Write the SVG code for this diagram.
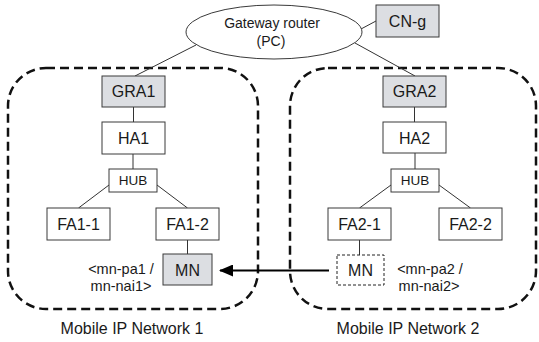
<svg xmlns="http://www.w3.org/2000/svg" width="539" height="342" viewBox="0 0 539 342">
  <defs>
    <style>
      text { font-family: "Liberation Sans", Arial, sans-serif; fill: #1a1a1a; }
      .lbl { font-size: 16px; text-anchor: middle; }
      .addr { font-size: 14.5px; text-anchor: middle; }
      .hub { font-size: 13.5px; text-anchor: middle; }
      .gw { font-size: 14px; text-anchor: middle; }
      .box { fill: #ffffff; stroke: #3a3a3a; stroke-width: 1; }
      .gray { fill: #dcdee2; }
      .ghost { fill: #ffffff; stroke: #222222; stroke-width: 1; stroke-dasharray: 3 2; }
      .net { fill: none; stroke: #111111; stroke-width: 2.5; stroke-dasharray: 9 5; }
      .link { stroke: #333333; stroke-width: 1; fill: none; }
      .move { stroke: #000000; stroke-width: 2; fill: none; }
    </style>
    <marker id="arrowhead" viewBox="0 0 14 12" refX="13" refY="6" markerWidth="14" markerHeight="12" markerUnits="userSpaceOnUse" orient="auto">
      <path d="M0,0 L14,6 L0,12 Z" fill="#000000"/>
    </marker>
  </defs>

  <!-- network boundaries -->
  <g id="networks">
    <rect class="net" x="8" y="68" width="250" height="241" rx="38" ry="38"/>
    <rect class="net" x="290" y="68" width="246" height="241" rx="38" ry="38"/>
    <text class="lbl" x="132" y="334">Mobile IP Network 1</text>
    <text class="lbl" x="408" y="334">Mobile IP Network 2</text>
  </g>

  <!-- connectors -->
  <g id="connectors">
    <line class="link" x1="196" y1="45" x2="135" y2="76"/>
    <line class="link" x1="355" y1="43" x2="415" y2="76"/>
    <line class="link" x1="361" y1="29" x2="376" y2="21"/>
    <line class="link" x1="133.5" y1="107" x2="133.5" y2="122"/>
    <line class="link" x1="133" y1="154" x2="133" y2="169"/>
    <line class="link" x1="109" y1="185" x2="78.5" y2="208"/>
    <line class="link" x1="157" y1="185" x2="187.5" y2="208"/>
    <line class="link" x1="187.5" y1="240" x2="187.5" y2="254"/>
    <line class="link" x1="414.5" y1="107" x2="414.5" y2="122"/>
    <line class="link" x1="415" y1="153" x2="415" y2="169"/>
    <line class="link" x1="391" y1="185" x2="359.5" y2="208"/>
    <line class="link" x1="439" y1="185" x2="470.5" y2="208"/>
    <line class="link" x1="359.5" y1="240" x2="359.5" y2="255"/>
    <line class="move" x1="329" y1="270.5" x2="220" y2="270.5" marker-end="url(#arrowhead)"/>
  </g>

  <g id="gateway">
    <ellipse class="box" cx="274" cy="32" rx="88" ry="27"/>
    <text class="gw" x="272" y="28">Gateway router</text>
    <text class="gw" x="271" y="46">(PC)</text>
  </g>
  <g id="cn-g">
    <rect class="box gray" x="376" y="5" width="63" height="32"/>
    <text class="lbl" x="407.5" y="27">CN-g</text>
  </g>

  <g id="gra1">
    <rect class="box gray" x="102" y="76" width="63" height="31"/>
    <text class="lbl" x="133.5" y="97">GRA1</text>
  </g>
  <g id="ha1">
    <rect class="box" x="102" y="122" width="63" height="32"/>
    <text class="lbl" x="133.5" y="144">HA1</text>
  </g>
  <g id="hub1">
    <rect class="box" x="109" y="169" width="48" height="23"/>
    <text class="hub" x="133" y="185">HUB</text>
  </g>
  <g id="fa1-1">
    <rect class="box" x="47" y="208" width="63" height="32"/>
    <text class="lbl" x="78.5" y="230">FA1-1</text>
  </g>
  <g id="fa1-2">
    <rect class="box" x="156" y="208" width="63" height="32"/>
    <text class="lbl" x="187.5" y="230">FA1-2</text>
  </g>
  <g id="mn1">
    <rect class="box gray" x="163" y="254" width="49" height="31"/>
    <text class="lbl" x="187.5" y="275.5">MN</text>
    <text class="addr" x="121" y="273.5">&lt;mn-pa1 /</text>
    <text class="addr" x="121" y="290.5">mn-nai1&gt;</text>
  </g>

  <g id="gra2">
    <rect class="box gray" x="383" y="76" width="63" height="31"/>
    <text class="lbl" x="414.5" y="97">GRA2</text>
  </g>
  <g id="ha2">
    <rect class="box" x="383" y="122" width="63" height="31"/>
    <text class="lbl" x="414.5" y="143.5">HA2</text>
  </g>
  <g id="hub2">
    <rect class="box" x="391" y="169" width="48" height="23"/>
    <text class="hub" x="415" y="185">HUB</text>
  </g>
  <g id="fa2-1">
    <rect class="box" x="328" y="208" width="63" height="32"/>
    <text class="lbl" x="359.5" y="230">FA2-1</text>
  </g>
  <g id="fa2-2">
    <rect class="box" x="439" y="208" width="63" height="32"/>
    <text class="lbl" x="470.5" y="230">FA2-2</text>
  </g>
  <g id="mn2">
    <rect class="ghost" x="337" y="255" width="47" height="30"/>
    <text class="lbl" x="360.5" y="276">MN</text>
    <text class="addr" x="430" y="273.5">&lt;mn-pa2 /</text>
    <text class="addr" x="429" y="290.5">mn-nai2&gt;</text>
  </g>
</svg>
